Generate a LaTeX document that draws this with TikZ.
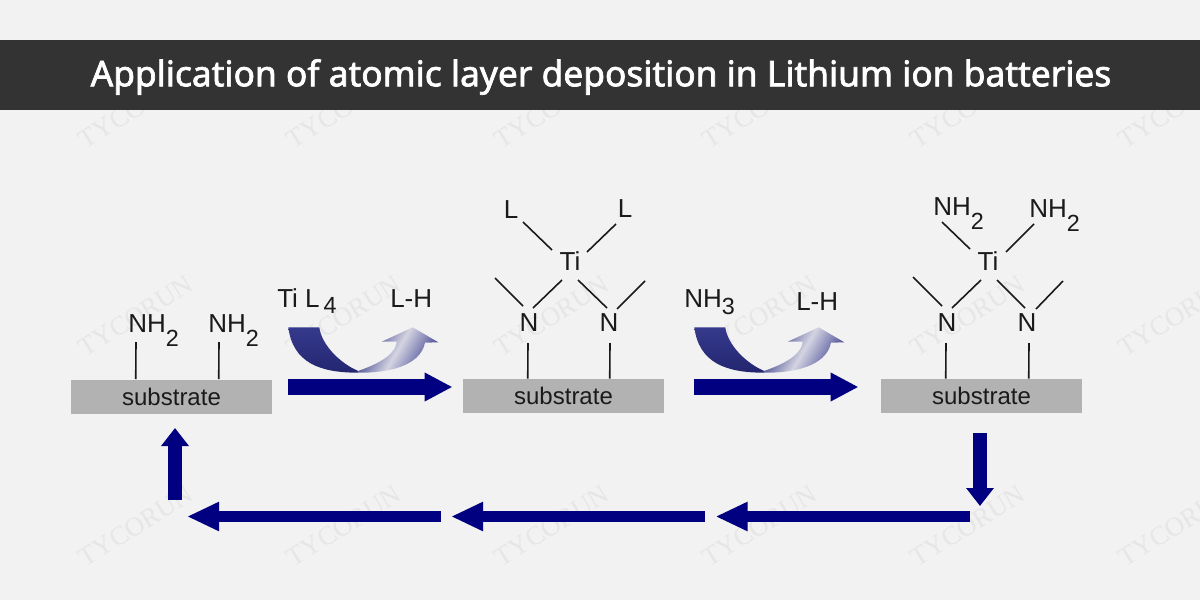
\documentclass[tikz,border=0pt]{standalone}
\usepackage{fontspec}
\usetikzlibrary{arrows.meta,calc}
\setmainfont{Liberation Sans}
\newfontfamily\titlefont[FakeBold=2]{Noto Sans}
\newfontfamily\markfont{Liberation Serif}
\definecolor{pagebg}{HTML}{F2F2F2}
\definecolor{barbg}{HTML}{333333}
\definecolor{navyarrow}{HTML}{000080}
\definecolor{subgray}{HTML}{B2B2B2}
\definecolor{inkc}{HTML}{1A1A1A}
\definecolor{markc}{HTML}{E6E6E6}
\definecolor{curvetop}{HTML}{363A8C}
\definecolor{curvebot}{HTML}{23256F}
\definecolor{riseA}{HTML}{2C2F80}
\definecolor{riseB}{HTML}{D4D4E2}
\definecolor{riseC}{HTML}{3F4190}
\newcommand{\subtwo}{\raisebox{-10.5pt}{\fontsize{17.5}{18}\selectfont 2}}
\tikzset{
  x=0.75pt,y=-0.75pt,
  wm/.style={text=markc,rotate=32,inner sep=0,font=\markfont\fontsize{20}{20}\selectfont},
  chem/.style={text=inkc,inner sep=0,font=\fontsize{19.5}{20}\selectfont},
  formula/.style={chem,anchor=base west},
  substratebox/.style={fill=subgray,minimum width=150.75pt,minimum height=25.5pt,inner sep=0,text=inkc,font=\fontsize{18}{20}\selectfont},
  bond/.style={draw=inkc,line width=1.2pt},
  flowr/.style={draw=navyarrow,line width=12pt,-{Triangle[length=21pt,width=20.25pt]}},
  flowb/.style={draw=navyarrow,line width=8.5pt,-{Triangle[length=24pt,width=20.25pt]}},
  flowv/.style={draw=navyarrow,line width=10.5pt,-{Triangle[length=13.5pt,width=20pt]}}
}
\begin{document}
\begin{tikzpicture}
\useasboundingbox (0,0) rectangle (1200,600);
\fill[pagebg] (0,0) rectangle (1200,600);
% watermarks
\foreach \r/\yy in {a/108,b/316,c/526}{
  \foreach \c/\xx in {1/136,2/344,3/552,4/760,5/968,6/1176}{
    \node[wm] (wm\r\c) at (\xx,\yy) {TYCORUN};
  }
}
% title bar
\fill[barbg] (0,40) rectangle (1200,110);
\node[text=white,inner sep=0,font=\titlefont\fontsize{26.5}{30}\selectfont] (title) at (601,77) {Application of atomic layer deposition in Lithium ion batteries};

% substrates
\node[substratebox] (s1) at (171.5,396.5) {substrate};
\node[substratebox] (s2) at (563.5,396) {substrate};
\node[substratebox] (s3) at (981.5,396) {substrate};

% stage 1
\node[formula] (na) at (128,332) {NH\subtwo};
\node[formula] (nb) at (208,332) {NH\subtwo};
\draw[bond] ($(na.base west)+(8,10)$) -- ($(s1.north west)+(65,0)$);
\draw[bond] ($(nb.base west)+(11,10)$) -- ($(s1.north west)+(148,0)$);

% stage 2
\node[chem] (l1) at (511,210) {L};
\node[chem] (l2) at (625,209) {L};
\node[chem] (ti1) at (570,261) {Ti};
\node[chem] (n1) at (529,323) {N};
\node[chem] (n2) at (609,323) {N};
\draw[bond] ($(l1)+(12,12)$) -- ($(ti1)+(-18,-11)$);
\draw[bond] ($(l2)+(-9,15)$) -- ($(ti1)+(17,-9)$);
\draw[bond] ($(ti1)+(-8,19)$) -- ($(n1)+(4,-15)$);
\draw[bond] ($(ti1)+(8,19)$) -- ($(n2)+(-2,-15)$);
\coordinate (c1) at (495,278);
\coordinate (c2) at (645,281);
\draw[bond] (c1) -- ($(n1)+(-6,-17)$);
\draw[bond] (c2) -- ($(n2)+(8,-14)$);
\draw[bond] ($(n1)+(-1,20)$) -- ($(s2.north west)+(65,0)$);
\draw[bond] ($(n2)+(1,20)$) -- ($(s2.north west)+(147,0)$);

% stage 3
\node[formula] (h1) at (933,215) {NH\subtwo};
\node[formula] (h2) at (1029,217) {NH\subtwo};
\node[chem] (ti2) at (988,261) {Ti};
\node[chem] (n3) at (947,323) {N};
\node[chem] (n4) at (1027,323) {N};
\draw[bond] ($(h1.base west)+(9,7)$) -- ($(ti2)+(-18,-12)$);
\draw[bond] ($(h2.base west)+(5,7)$) -- ($(ti2)+(18,-9)$);
\draw[bond] ($(ti2)+(-7,19)$) -- ($(n3)+(5,-15)$);
\draw[bond] ($(ti2)+(9,19)$) -- ($(n4)+(-2,-15)$);
\coordinate (c3) at (913,277);
\coordinate (c4) at (1063,281);
\draw[bond] (c3) -- ($(n3)+(-5,-17)$);
\draw[bond] (c4) -- ($(n4)+(9,-14)$);
\draw[bond] ($(n3)+(-1,20)$) -- ($(s3.north west)+(65,0)$);
\draw[bond] ($(n4)+(2,20)$) -- ($(s3.north west)+(148,0)$);

% reagents
\node[formula] (til) at (277,307) {Ti L\raisebox{-5pt}{\fontsize{17.5}{18}\selectfont\,4}};
\node[formula] (lh1) at (390,307) {L-H};
\node[formula] (nh3) at (684,307) {NH\raisebox{-5.5pt}{\fontsize{17.5}{18}\selectfont 3}};
\node[formula] (lh2) at (796,310) {L-H};

% curved reaction arrows
\foreach \dx in {0,406}{
\begin{scope}[shift={(\dx,0)}]
  \path[shade,shading=axis,top color=curvetop,bottom color=curvebot]
    (288.3,327.3) -- (319.3,327.3)
    .. controls (321.7,345) and (340,363.3) .. (358.3,371)
    -- (358.3,372.7)
    .. controls (320,372.7) and (293,363) .. (288.3,327.3) -- cycle;
  \path[left color=riseA,right color=riseC,middle color=riseB,shading angle=60]
    (358,371)
    .. controls (385,361.7) and (396,351.7) .. (396.7,341.7)
    -- (381.7,341.7) -- (412.7,327.3) -- (438.3,342.3) -- (425,342.7)
    .. controls (420,366.7) and (386.7,373.3) .. (356.7,372.7) -- cycle;
\end{scope}
}

% process arrows
\coordinate (a1s) at (288,387); \coordinate (a1e) at (452.5,387);
\coordinate (a2s) at (694,387); \coordinate (a2e) at (858.5,387);
\coordinate (a3s) at (980,433); \coordinate (a3e) at (980,506);
\coordinate (a4s) at (970,516.5); \coordinate (a4e) at (715.5,516.5);
\coordinate (a5s) at (705,516.5); \coordinate (a5e) at (451,516.5);
\coordinate (a6s) at (441,516.5); \coordinate (a6e) at (187,516.5);
\coordinate (a7s) at (175,500); \coordinate (a7e) at (175,428);
\draw[flowr] (a1s) -- (a1e);
\draw[flowr] (a2s) -- (a2e);
\draw[flowv] (a3s) -- (a3e);
\draw[flowb] (a4s) -- (a4e);
\draw[flowb] (a5s) -- (a5e);
\draw[flowb] (a6s) -- (a6e);
\draw[flowv] (a7s) -- (a7e);
\end{tikzpicture}
\end{document}
